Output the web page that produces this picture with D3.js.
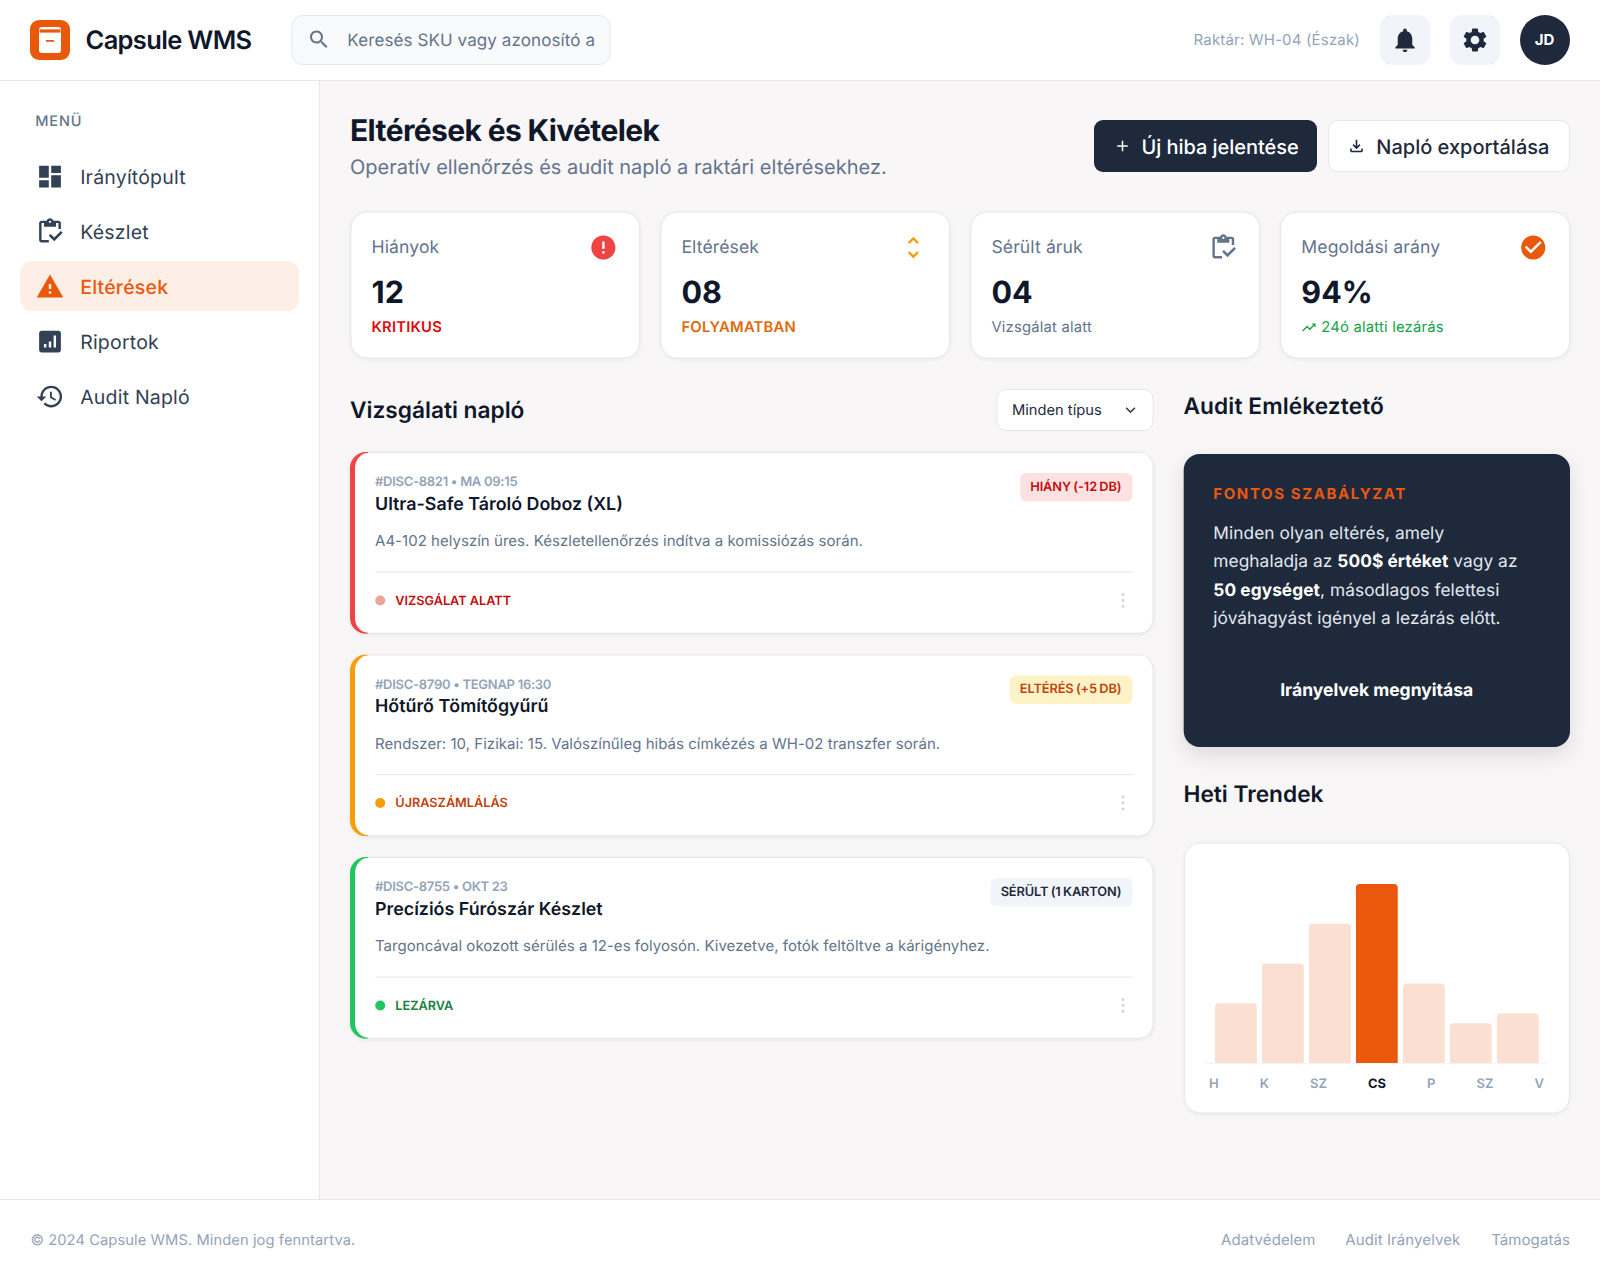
<!DOCTYPE html>
<html lang="hu">
<head>
<meta charset="utf-8">
<title>Capsule WMS</title>
<script src="https://cdn.jsdelivr.net/npm/d3@7/dist/d3.min.js"></script>
<style>
  html, body { margin: 0; padding: 0; background: #f8f6f6; }
  svg { display: block; font-family: Inter, "Noto Sans", sans-serif; text-rendering: geometricPrecision; }
  text { dominant-baseline: central; }
</style>
</head>
<body>
<svg id="page" width="1600" height="1280"></svg>
<script>
// chart data
const trendDays = ["H", "K", "SZ", "CS", "P", "SZ", "V"];
const trendValues = [30, 50, 70, 90, 40, 20, 25];
const trendPeak = 3;

const navLabels = ["Irányítópult", "Készlet", "Eltérések", "Riportok", "Audit Napló"];
const navIcons = ["dashboard", "inventory", "warning", "assessment", "history"];
const navActive = 2;

const kpiLabels = ["Hiányok", "Eltérések", "Sérült áruk", "Megoldási arány"];
const kpiValues = ["12", "08", "04", "94%"];
const kpiNotes = ["KRITIKUS", "FOLYAMATBAN", "Vizsgálat alatt", "24ó alatti lezárás"];
const kpiIcons = ["error", "unfold", "inventory", "check"];
const kpiIconColors = ["#ef4444", "#f59e0b", "#64748b", "#ea580c"];
const kpiNoteColors = ["#dc0a0a", "#dd6b0a", "#64748b", "#16a34a"];

const logMeta = ["#DISC-8821 • MA 09:15", "#DISC-8790 • TEGNAP 16:30", "#DISC-8755 • OKT 23"];
const logTitles = ["Ultra-Safe Tároló Doboz (XL)", "Hőtűrő Tömítőgyűrű", "Precíziós Fúrószár Készlet"];
const logTexts = [
  "A4-102 helyszín üres. Készletellenőrzés indítva a komissiózás során.",
  "Rendszer: 10, Fizikai: 15. Valószínűleg hibás címkézés a WH-02 transzfer során.",
  "Targoncával okozott sérülés a 12-es folyosón. Kivezetve, fotók feltöltve a kárigényhez."
];
const logBadges = ["HIÁNY (-12 DB)", "ELTÉRÉS (+5 DB)", "SÉRÜLT (1 KARTON)"];
const logStatus = ["VIZSGÁLAT ALATT", "ÚJRASZÁMLÁLÁS", "LEZÁRVA"];
const logAccent = ["#ef4444", "#f59e0b", "#22c55e"];
const logBadgeFill = ["#fee2e2", "#fef3c7", "#f1f5f9"];
const logBadgeText = ["#c40c0c", "#c2410c", "#1e293b"];
const logStatusText = ["#c40c0c", "#c2410c", "#15803d"];
const logDot = ["#e8a598", "#f59e0b", "#22c55e"];

const footerLinks = ["Adatvédelem", "Audit Irányelvek", "Támogatás"];

const icons = {
  search: "M15.5 14h-.79l-.28-.27C15.41 12.59 16 11.11 16 9.5 16 5.91 13.09 3 9.5 3S3 5.91 3 9.5 5.91 16 9.5 16c1.61 0 3.09-.59 4.23-1.57l.27.28v.79l5 4.99L20.49 19l-4.99-5zm-6 0C7.01 14 5 11.99 5 9.5S7.01 5 9.5 5 14 7.01 14 9.5 11.99 14 9.5 14z",
  bell: "M12 22c1.1 0 2-.9 2-2h-4c0 1.1.89 2 2 2zm6-6v-5c0-3.07-1.64-5.64-4.5-6.32V4c0-.83-.67-1.5-1.5-1.5s-1.5.67-1.5 1.5v.68C7.63 5.36 6 7.92 6 11v5l-2 2v1h16v-1l-2-2z",
  gear: "M19.14 12.94c.04-.3.06-.61.06-.94 0-.32-.02-.64-.07-.94l2.03-1.58c.18-.14.23-.41.12-.61l-1.92-3.32c-.12-.22-.37-.29-.59-.22l-2.39.96c-.5-.38-1.03-.7-1.62-.94l-.36-2.54c-.04-.24-.24-.41-.48-.41h-3.84c-.24 0-.43.17-.47.41l-.36 2.54c-.59.24-1.13.57-1.62.94l-2.39-.96c-.22-.08-.47 0-.59.22L2.74 8.87c-.12.21-.08.47.12.61l2.03 1.58c-.05.3-.09.63-.09.94s.02.64.07.94l-2.03 1.58c-.18.14-.23.41-.12.61l1.92 3.32c.12.22.37.29.59.22l2.39-.96c.5.38 1.03.7 1.62.94l.36 2.54c.05.24.24.41.48.41h3.84c.24 0 .44-.17.47-.41l.36-2.54c.59-.24 1.13-.56 1.62-.94l2.39.96c.22.08.47 0 .59-.22l1.92-3.32c.12-.22.07-.47-.12-.61l-2.01-1.58zM12 15.6c-1.98 0-3.6-1.62-3.6-3.6s1.62-3.6 3.6-3.6 3.6 1.62 3.6 3.6-1.62 3.6-3.6 3.6z",
  dashboard: "M3 13h8V3H3v10zm0 8h8v-6H3v6zm10 0h8V11h-8v10zm0-18v6h8V3h-8z",
  inventory: "M5 5h2v3h10V5h2v5h2V5c0-1.1-.9-2-2-2h-4.18C14.4 1.84 13.3 1 12 1s-2.4.84-2.82 2H5c-1.1 0-2 .9-2 2v14c0 1.1.9 2 2 2h6v-2H5V5zm7-2c.55 0 1 .45 1 1s-.45 1-1 1-1-.45-1-1 .45-1 1-1zM21 11.5L15.51 17l-3.01-3-1.5 1.5 4.51 4.5 6.99-7z",
  warning: "M1 21h22L12 2 1 21zm12-3h-2v-2h2v2zm0-4h-2v-4h2v4z",
  assessment: "M19 3H5c-1.1 0-2 .9-2 2v14c0 1.1.9 2 2 2h14c1.1 0 2-.9 2-2V5c0-1.1-.9-2-2-2zM9 17H7v-3h2v3zm4 0h-2v-5h2v5zm4 0h-2V7h2v10z",
  history: "M13 3c-4.97 0-9 4.03-9 9H1l3.89 3.89.07.14L9 12H6c0-3.87 3.13-7 7-7s7 3.13 7 7-3.13 7-7 7c-1.93 0-3.68-.79-4.94-2.06l-1.42 1.42C8.27 19.99 10.51 21 13 21c4.97 0 9-4.03 9-9s-4.03-9-9-9zm-1 5v5l4.28 2.54.72-1.21-3.5-2.08V8H12z",
  plus: "M19 13h-6v6h-2v-6H5v-2h6V5h2v6h6v2z",
  download: "M18 15v3H6v-3H4v3c0 1.1.9 2 2 2h12c1.1 0 2-.9 2-2v-3h-2zm-1-4l-1.41-1.41L13 12.17V4h-2v8.17L8.41 9.59 7 11l5 5 5-5z",
  error: "M12 2C6.48 2 2 6.48 2 12s4.48 10 10 10 10-4.48 10-10S17.52 2 12 2zm1 15h-2v-2h2v2zm0-4h-2V7h2v6z",
  check: "M12 2C6.48 2 2 6.48 2 12s4.48 10 10 10 10-4.48 10-10S17.52 2 12 2zm-2 15l-5-5 1.41-1.41L10 14.17l7.59-7.59L19 8l-9 9z",
  unfold: "M12 5.83L15.17 9l1.41-1.41L12 3 7.41 7.59 8.83 9 12 5.83zm0 12.34L8.83 15l-1.41 1.41L12 21l4.59-4.59L15.17 15 12 18.17z",
  trend: "M16 6l2.29 2.29-4.88 4.88-4-4L2 16.59 3.41 18l6-6 4 4 6.3-6.29L22 12V6z",
  chevron: "M16.59 8.59L12 13.17 7.41 8.59 6 10l6 6 6-6z"
};

const svg = d3.select("#page");

function label(parent, str, x, y, size, weight, color, spacing, anchor) {
  return parent.append("text")
    .attr("x", x).attr("y", y)
    .attr("font-size", size)
    .attr("font-weight", weight)
    .attr("fill", color)
    .attr("letter-spacing", spacing || 0)
    .attr("text-anchor", anchor || "start")
    .text(str);
}

function icon(parent, name, cx, cy, size, color) {
  const s = size / 24;
  return parent.append("path")
    .attr("d", icons[name])
    .attr("fill", color)
    .attr("transform", `translate(${cx - size / 2},${cy - size / 2}) scale(${s})`);
}

function box(parent, x, y, w, h, r, fill, stroke) {
  return parent.append("rect")
    .attr("x", x).attr("y", y).attr("width", w).attr("height", h)
    .attr("rx", r).attr("ry", r)
    .attr("fill", fill)
    .attr("stroke", stroke || "none");
}

// background and frame
box(svg, 0, 0, 1600, 1280, 0, "#f8f6f6");
box(svg, 0, 0, 1600, 80, 0, "#ffffff");
box(svg, 0, 80, 1600, 1, 0, "#e2e8f0");
box(svg, 0, 81, 319, 1118, 0, "#ffffff");
box(svg, 319, 81, 1, 1118, 0, "#e2e8f0");
box(svg, 0, 1199, 1600, 81, 0, "#ffffff");
box(svg, 0, 1199, 1600, 1, 0, "#e2e8f0");

// header
const head = svg.append("g");
box(head, 30, 20, 40, 40, 9, "#ea580c");
box(head, 39, 27, 22, 26, 3, "#ffffff");
box(head, 39.6, 29.4, 20.8, 3.2, 0, "#ea580c");
box(head, 46, 40, 8, 1.8, 0, "#ea580c");
label(head, "Capsule WMS", 85.5, 40, 25.5, 600, "#0f172a", -0.66);

box(head, 292, 15.5, 318, 49, 11, "#f8fafc", "#e2e8f0");
icon(head, "search", 319, 39.5, 24, "#64748b");
label(head, "Keresés SKU vagy azonosító a", 347.3, 40.7, 17, 400, "#64748b", 0.1);

label(head, "Raktár: WH-04 (Észak)", 1360, 39.7, 15, 400, "#94a3b8", 0.17, "end");
box(head, 1380, 15, 50, 50, 12, "#f1f5f9");
icon(head, "bell", 1405, 40, 29, "#1e293b");
box(head, 1450, 15, 50, 50, 12, "#f1f5f9");
icon(head, "gear", 1475, 40, 29, "#1e293b");
head.append("circle").attr("cx", 1545).attr("cy", 40).attr("r", 25).attr("fill", "#1e293b");
label(head, "JD", 1544.5, 39.7, 15, 700, "#ffffff", 0, "middle");

// sidebar
const side = svg.append("g");
label(side, "MENÜ", 35.2, 121.3, 14.5, 500, "#64748b", 0.9);
box(side, 20, 261, 279, 50, 12, "#fdeee6");
navLabels.forEach((name, i) => {
  const y = 176.5 + i * 55;
  const color = i === navActive ? "#ea580c" : "#334155";
  icon(side, navIcons[i], 50, y, 29, i === navActive ? "#ea580c" : "#334155");
  label(side, name, 80.2, y, 19.5, i === navActive ? 500 : 400, color, 0.2);
});

// page title and buttons
const titleBar = svg.append("g");
label(titleBar, "Eltérések és Kivételek", 350, 130.5, 30, 700, "#0f172a", -0.62);
label(titleBar, "Operatív ellenőrzés és audit napló a raktári eltérésekhez.", 350, 166.5, 20, 400, "#64748b", 0);
box(titleBar, 1094, 120, 223, 52, 9, "#1e293b");
icon(titleBar, "plus", 1122.5, 146, 18, "#ffffff");
label(titleBar, "Új hiba jelentése", 1141.5, 146.6, 20, 500, "#ffffff", -0.05);
box(titleBar, 1328.5, 120.5, 241, 51, 9, "#ffffff", "#e2e8f0");
icon(titleBar, "download", 1356.5, 146, 19, "#1e293b");
label(titleBar, "Napló exportálása", 1376.3, 146.6, 20, 500, "#1e293b", 0);

// KPI cards
kpiLabels.forEach((name, i) => {
  const x = 350.5 + i * 309.95;
  const g = svg.append("g");
  box(g, x + 0.5, 212, 288.75, 146, 16, "#ffffff", "#e2e8f0")
    .style("filter", "drop-shadow(0 1px 2px rgba(15,23,42,0.06))");
  label(g, name, x + 21, 247.7, 17.6, 400, "#64748b", 0.1);
  label(g, kpiValues[i], x + 21, 292.3, 30.5, 700, "#0f172a", 0);
  const noteX = i === 3 ? x + 41 : x + 21;
  label(g, kpiNotes[i], noteX, 327.4, 14.8, i < 2 ? 600 : 400, kpiNoteColors[i], 0.2);
  if (i === 3) icon(g, "trend", x + 28.5, 327.5, 16, "#16a34a");
  icon(g, kpiIcons[i], x + 252.9, 247.5, 29, kpiIconColors[i]);
});

// log column
label(svg, "Vizsgálati napló", 350, 410.3, 22.7, 600, "#0f172a", 0);
box(svg, 997, 389.5, 156, 41, 9, "#ffffff", "#e2e8f0");
label(svg, "Minden típus", 1012, 409.7, 14.7, 400, "#1e293b", 0);
icon(svg, "chevron", 1130.5, 410, 20, "#334155");

const defs = svg.append("defs");
logTitles.forEach((title, i) => {
  const y = 452 + i * 202.5;
  const g = svg.append("g");
  box(g, 350, y, 803.6, 181.7, 16, "#e2e8f0")
    .style("filter", "drop-shadow(0 1px 2px rgba(15,23,42,0.08))");
  defs.append("clipPath").attr("id", "edge" + i)
    .append("rect").attr("x", 350).attr("y", y).attr("width", 18).attr("height", 181.7);
  box(g, 350, y, 803.6, 181.7, 16, logAccent[i]).attr("clip-path", `url(#edge${i})`);
  g.append("rect")
    .attr("x", 355).attr("y", y + 1).attr("width", 797.6).attr("height", 179.7)
    .attr("rx", 13).attr("ry", 15).attr("fill", "#ffffff");

  label(g, logMeta[i], 375, y + 30, 13, 600, "#94a3b8", -0.28);
  label(g, title, 375, y + 52.2, 17.85, 600, "#0f172a", 0);
  label(g, logTexts[i], 375, y + 88.7, 15, 400, "#64748b", 0.03);
  box(g, 375.5, y + 119.5, 757, 1.2, 0, "#e7ebf1");

  g.append("circle").attr("cx", 380.2).attr("cy", y + 148.5).attr("r", 5).attr("fill", logDot[i]);
  label(g, logStatus[i], 395.3, y + 149, 12.7, 600, logStatusText[i], 0);
  [-6, 0, 6].forEach(d => {
    g.append("circle").attr("cx", 1123).attr("cy", y + 148.5 + d).attr("r", 1.4).attr("fill", "#cbd5e1");
  });

  const tag = label(g, logBadges[i], 1121.5, y + 35.4, 12.8, 600, logBadgeText[i], -0.1, "end")
    .attr("word-spacing", -0.8);
  const tagWidth = tag.node().getComputedTextLength();
  box(g, 1132.5 - tagWidth - 21, y + 21, tagWidth + 21, 28.5, 6, logBadgeFill[i]);
  tag.raise();
});

// reminder card
label(svg, "Audit Emlékeztető", 1183.5, 406, 22.7, 600, "#0f172a", 0.1);
const reminder = svg.append("g");
box(reminder, 1183.7, 454, 386.3, 293, 16, "#1e293b")
  .style("filter", "drop-shadow(0 8px 10px rgba(15,23,42,0.12))");
label(reminder, "FONTOS SZABÁLYZAT", 1213.3, 493.6, 15, 700, "#ea580c", 1.6);
const reminderLines = [
  [["Minden olyan eltérés, amely", 0]],
  [["meghaladja az ", 0], ["500$ értéket", 1], [" vagy az", 0]],
  [["50 egységet", 1], [", másodlagos felettesi", 0]],
  [["jóváhagyást igényel a lezárás előtt.", 0]]
];
reminderLines.forEach((line, i) => {
  const t = reminder.append("text")
    .attr("x", 1213.3).attr("y", 533 + i * 28.4)
    .attr("font-size", 17.3).attr("letter-spacing", 0.07);
  line.forEach(part => {
    t.append("tspan")
      .attr("font-weight", part[1] ? 700 : 400)
      .attr("fill", part[1] ? "#ffffff" : "#e2e8f0")
      .text(part[0]);
  });
});
label(reminder, "Irányelvek megnyitása", 1376.7, 690.3, 17.5, 700, "#ffffff", 0, "middle");

// weekly trend chart
label(svg, "Heti Trendek", 1183.5, 794.6, 22.7, 600, "#0f172a", 0);
const chart = svg.append("g");
box(chart, 1184.5, 843, 385, 270, 16, "#ffffff", "#e2e8f0")
  .style("filter", "drop-shadow(0 1px 2px rgba(15,23,42,0.06))");

const xBars = d3.scaleBand()
  .domain(d3.range(trendValues.length))
  .range([1215, 1538.7])
  .paddingInner(0.11);
const yBars = d3.scaleLinear().domain([0, 100]).range([1063, 864]);

function barPath(v, i) {
  const x0 = xBars(i), w = xBars.bandwidth(), r = 4, p = d3.path();
  p.moveTo(x0, yBars(0));
  p.lineTo(x0, yBars(v) + r);
  p.quadraticCurveTo(x0, yBars(v), x0 + r, yBars(v));
  p.lineTo(x0 + w - r, yBars(v));
  p.quadraticCurveTo(x0 + w, yBars(v), x0 + w, yBars(v) + r);
  p.lineTo(x0 + w, yBars(0));
  p.closePath();
  return p.toString();
}

chart.selectAll("path.bar")
  .data(trendValues)
  .enter()
  .append("path")
  .attr("class", "bar")
  .attr("d", barPath)
  .attr("fill", (d, i) => i === trendPeak ? "#ea580c" : "#fbdfd3");

box(chart, 1205, 1063, 343, 1, 0, "#f1f5f9");

const axisScale = d3.scalePoint().domain(d3.range(trendDays.length)).range([1214, 1540]);
const axisGroup = chart.append("g")
  .attr("transform", "translate(0,1083.5)")
  .call(d3.axisBottom(axisScale).tickSize(0).tickPadding(0).tickFormat(i => trendDays[i]));
axisGroup.select(".domain").remove();
axisGroup.selectAll("text")
  .attr("y", 0).attr("dy", null)
  .attr("font-family", "Inter")
  .attr("font-size", 13)
  .attr("font-weight", (d, i) => i === trendPeak ? 700 : 600)
  .attr("fill", (d, i) => i === trendPeak ? "#0f172a" : "#94a3b8");

// labels are spread edge to edge with equal gaps, so the gaps depend on their widths
const tickWidths = axisGroup.selectAll("text").nodes().map(n => n.getComputedTextLength());
const tickGap = (1544 - 1209 - d3.sum(tickWidths)) / (tickWidths.length - 1);
let tickCursor = 1209;
axisGroup.selectAll(".tick").attr("transform", (d, i) => {
  const cx = tickCursor + tickWidths[i] / 2;
  tickCursor += tickWidths[i] + tickGap;
  return `translate(${cx},0)`;
});

// footer
label(svg, "© 2024 Capsule WMS. Minden jog fenntartva.", 30.5, 1239.7, 14.7, 400, "#94a3b8", 0.085);
const linkEnds = [1315.5, 1460.3, 1570];
footerLinks.forEach((name, i) => {
  label(svg, name, linkEnds[i], 1239.7, 15, 400, "#94a3b8", 0.085, "end");
});
</script>
</body>
</html>
